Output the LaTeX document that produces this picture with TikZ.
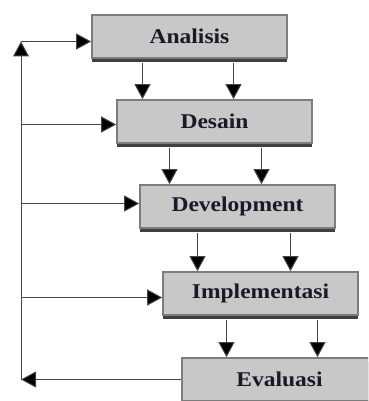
\documentclass[tikz,border=0pt]{standalone}
\usepackage{fontspec}
\setmainfont{Liberation Serif}
\usetikzlibrary{arrows.meta,positioning,calc,shadows}
\definecolor{boxcol}{RGB}{200,200,200}
\definecolor{edgecol}{RGB}{125,125,125}
\definecolor{linecol}{RGB}{70,70,70}
\definecolor{textcol}{RGB}{25,25,40}

\begin{document}
\begin{tikzpicture}[x=1pt,y=-1pt,
  phase/.style={draw=edgecol,line width=1.6pt,fill=boxcol,minimum width=195pt,minimum height=43pt,
    inner sep=0pt,font=\fontsize{21}{24}\selectfont\bfseries,text=textcol,
    drop shadow={shadow xshift=0pt,shadow yshift=-4pt,fill=black!75,opacity=1}},
  arr/.style={draw=linecol,line width=1pt,-{Triangle[length=15pt,width=16pt,fill=black]}}]
  \clip (0,0) rectangle (368,401);
  \useasboundingbox (0,0) rectangle (368,401);
  % the five phases, stepped to the right
  \node[phase] (ana) at (189.5,36.5) {\scalebox{1.12}[1]{Analisis}};
  \node[phase] (des) at (214.5,121.5) {\scalebox{1.12}[1]{Desain}};
  \node[phase] (dev) at (237.5,206.5) {\scalebox{1.12}[1]{Development}};
  \node[phase] (imp) at (260.5,293.5) {\scalebox{1.12}[1]{Implementasi}};
  \node[phase] (eva) at (279.5,379.5) {\scalebox{1.12}[1]{Evaluasi}};
  % two arrows down between each pair
  \foreach \a/\b/\l/\r in {ana/des/-47/44,des/dev/-45/47,dev/imp/-40/53,imp/eva/-34/57}{
    \draw[arr] ([xshift=\l pt,yshift=-4pt]\a.south) -- ([xshift=\l pt]\a.south |- \b.north);
    \draw[arr] ([xshift=\r pt,yshift=-4pt]\a.south) -- ([xshift=\r pt]\a.south |- \b.north);
  }
  % feedback line on the left
  \coordinate (spine) at (21,0);
  \draw[arr] (eva.west) -- (eva.west -| spine);
  \draw[arr] (eva.west -| spine) -- ([yshift=-5pt]ana.west -| spine);
  \draw[arr] ([yshift=-5pt]ana.west -| spine) -- ([yshift=-5pt]ana.west);
  \foreach \n/\s in {des/-3,dev/3,imp/-4}{
    \draw[arr] ([yshift=\s pt]\n.west -| spine) -- ([yshift=\s pt]\n.west);
  }
\end{tikzpicture}
\end{document}
